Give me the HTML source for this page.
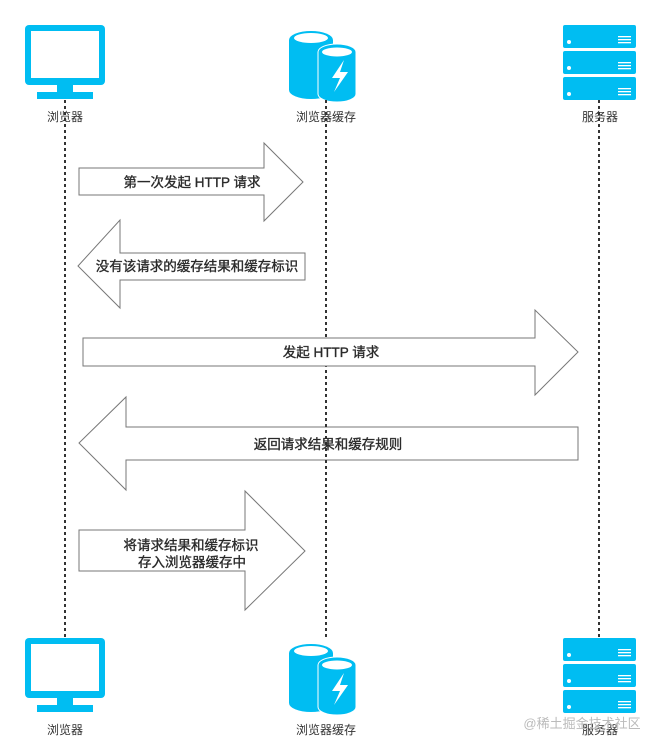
<!DOCTYPE html>
<html><head><meta charset="utf-8"><style>
body{margin:0;background:#fff;width:662px;height:751px;overflow:hidden}
svg text{font-family:"Liberation Sans","Noto Sans CJK SC",sans-serif}
</style></head><body>
<svg width="662" height="751" viewBox="0 0 662 751" xmlns="http://www.w3.org/2000/svg">
<defs>
<g id="mon">
  <rect x="25" y="25" width="80" height="60" rx="4" fill="#00bdf2"/>
  <rect x="31" y="31" width="68" height="47" fill="#fff"/>
  <rect x="57" y="85" width="16" height="8" fill="#00bdf2"/>
  <rect x="37" y="92" width="56" height="7" fill="#00bdf2"/>
</g>
<g id="db">
  <path d="M289 40 a22 9 0 0 1 44 0 v50 a22 9 0 0 1 -44 0z" fill="#00bdf2"/>
  <ellipse cx="311" cy="38" rx="17" ry="5" fill="#fff"/>
  <path d="M318 52 a19 8 0 0 1 38 0 v42 a19 8 0 0 1 -38 0z" fill="#00bdf2" stroke="#fff" stroke-width="1"/>
  <ellipse cx="337" cy="52" rx="15" ry="4.5" fill="#fff"/>
  <path d="M344 60 L332 78 L340 78 L334 92 L348 72 L340 72 Z" fill="#fff"/>
</g>
<g id="srv">
  <rect x="563" y="25" width="73" height="23" rx="2" fill="#00bdf2"/>
  <rect x="563" y="51" width="73" height="23" rx="2" fill="#00bdf2"/>
  <rect x="563" y="77" width="73" height="23" rx="2" fill="#00bdf2"/>
  <g fill="#fff">
   <circle cx="569" cy="42" r="2"/><circle cx="569" cy="68" r="2"/><circle cx="569" cy="94" r="2"/>
   <rect x="618" y="36" width="13" height="1.3"/><rect x="618" y="39" width="13" height="1.3"/><rect x="618" y="42" width="13" height="1.3"/>
   <rect x="618" y="62" width="13" height="1.3"/><rect x="618" y="65" width="13" height="1.3"/><rect x="618" y="68" width="13" height="1.3"/>
   <rect x="618" y="88" width="13" height="1.3"/><rect x="618" y="91" width="13" height="1.3"/><rect x="618" y="94" width="13" height="1.3"/>
  </g>
</g>
</defs>
<use href="#mon"/><use href="#db"/><use href="#srv"/>
<g transform="translate(0,613)"><use href="#mon"/><use href="#db"/><use href="#srv"/></g>
<g font-size="12" fill="#333" text-anchor="middle">
<text x="65" y="121">浏览器</text><text x="326" y="121">浏览器缓存</text><text x="600" y="121">服务器</text>
<text x="65" y="734">浏览器</text><text x="326" y="734">浏览器缓存</text><text x="600" y="734">服务器</text>
</g>
<text x="582" y="728" font-size="13" fill="#bbb" text-anchor="middle">@稀土掘金技术社区</text>
<g fill="#fff" stroke="#777" stroke-width="1">
<path d="M79 168 H264 V143 L303 182 L264 221 V195 H79 Z"/>
<path d="M305 253 H120 V220 L78 266 L120 308 V280 H305 Z"/>
<path d="M578 427 H126 V397 L79 443 L126 490 V460 H578 Z"/>
<path d="M79 530 H245 V491 L305 551 L245 610 V571 H79 Z"/>
</g>
<g stroke="#333" stroke-width="2" stroke-dasharray="3,3">
<line x1="65" y1="100" x2="65" y2="638"/>
<line x1="326" y1="100" x2="326" y2="640"/>
<line x1="599" y1="100" x2="599" y2="638"/>
</g>
<path d="M83 338 H535 V310 L578 352 L535 395 V366 H83 Z" fill="#fff" stroke="#777" stroke-width="1"/>
<g font-size="13.5" fill="#2a2a2a" stroke="#2a2a2a" stroke-width="0.35" text-anchor="middle">
<text x="192" y="187">第一次发起 HTTP 请求</text>
<text x="197" y="271">没有该请求的缓存结果和缓存标识</text>
<text x="331" y="357">发起 HTTP 请求</text>
<text x="328" y="449">返回请求结果和缓存规则</text>
<text x="191" y="550">将请求结果和缓存标识</text>
<text x="192" y="567">存入浏览器缓存中</text>
</g>
</svg>
</body></html>
